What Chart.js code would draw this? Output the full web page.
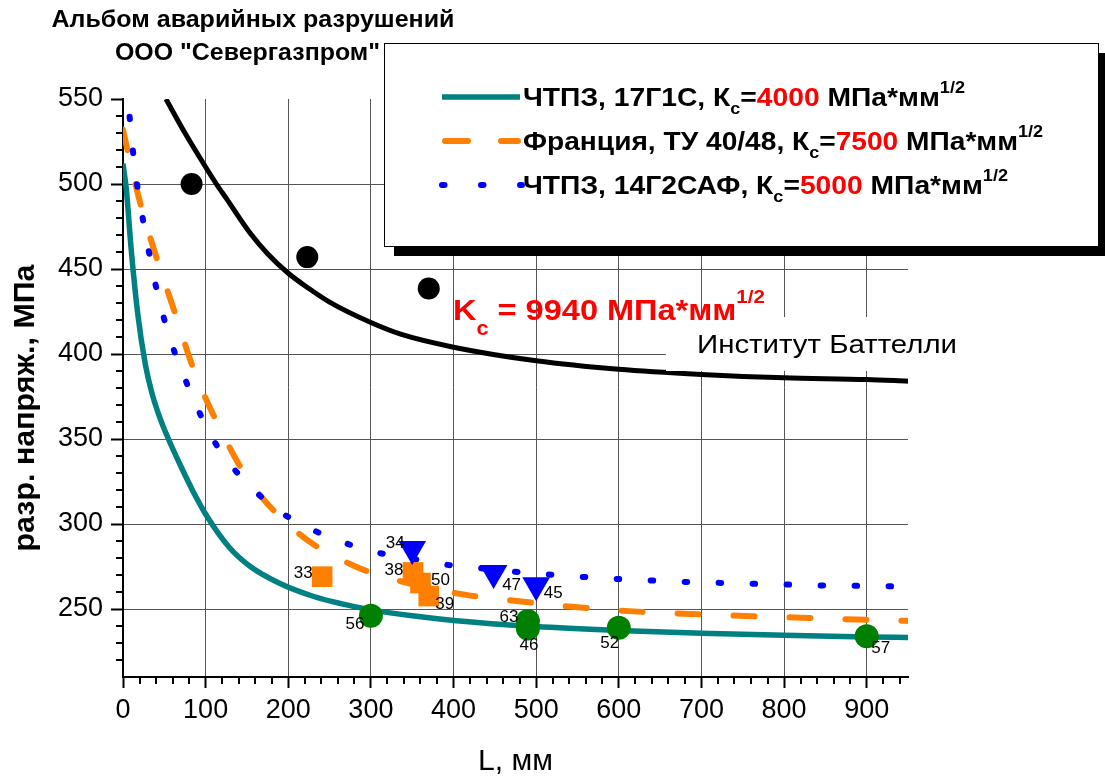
<!DOCTYPE html>
<html>
<head>
<meta charset="utf-8">
<title>Альбом аварийных разрушений</title>
<script src="https://cdn.jsdelivr.net/npm/chart.js@4.4.1/dist/chart.umd.min.js"></script>
<style>
  body { margin: 0; background: #fff; }
  #box { width: 1105px; height: 776px; }
</style>
</head>
<body>
<div id="box"><canvas id="grafico" width="1105" height="776"></canvas></div>
<script>
const xTicks = [0, 100, 200, 300, 400, 500, 600, 700, 800, 900];
const yTicks = [250, 300, 350, 400, 450, 500, 550];

// ЧТПЗ, 17Г1С, Kc=4000
const tealX = [0, 4, 10, 18, 27, 35, 45, 55, 69, 85, 101, 129, 154, 190, 230, 265, 300, 350, 400, 500, 600, 700, 800, 900, 950];
const tealY = [512, 497, 461, 423, 394, 377, 362, 350, 335, 319, 305, 286, 275, 265, 257.5, 253, 249.5, 246, 243.3, 239.7, 237.4, 235.7, 234.5, 233.6, 233.2];

// Франция, ТУ 40/48, Kc=7500
const orangeX = [0, 4.5, 21, 41, 63, 85.5, 115, 152, 212, 280, 331, 415, 482, 550, 618, 685, 752, 820, 887, 950];
const orangeY = [532, 522, 488.5, 456, 424, 391, 358.5, 326, 294.7, 275.3, 267, 258.3, 254.4, 251, 248.6, 247.1, 245.9, 244.9, 243.8, 243];

// ЧТПЗ, 14Г2САФ, Kc=5000
const blueX = [8, 12, 17, 23.5, 31, 39, 49, 61.5, 77, 95, 117, 150, 189, 230, 270, 307, 350, 392, 432, 473, 512, 553, 593, 634, 674, 714, 755, 795, 836, 876, 916, 950];
const blueY = [539.6, 519.6, 500, 480.8, 461, 441.6, 422, 402.4, 383, 363, 343.5, 324, 307.6, 296.5, 288.6, 283.3, 279.5, 276, 274, 272, 270.4, 269, 267.8, 266.9, 266, 265.5, 264.9, 264.5, 263.9, 263.7, 263.4, 263.2];

// Институт Баттелли, Kc=9940
const battelleX = [52, 75, 100, 113, 125, 154, 175, 200, 225, 250, 300, 337, 400, 500, 600, 700, 800, 900, 950];
const battelleY = [550, 530, 510, 500, 491.5, 471, 459, 447.5, 438.5, 430.5, 418.5, 411.5, 404, 396, 391, 388, 386, 385, 384];

// аварии
const blackDotX = [83, 223, 370];
const blackDotY = [500, 457, 438.5];

const greenX = [300, 490, 490, 600, 900];
const greenY = [246, 243, 238.5, 239, 234];
const greenNum = ['56', '63', '46', '52', '57'];

const squareX = [241, 351, 360, 370];
const squareY = [269, 271.5, 265.3, 257.6];
const squareNum = ['33', '38', '50', '39'];

const triangleX = [350, 448.5, 500];
const triangleY = [285.3, 271.2, 264];
const triangleNum = ['34', '47', '45'];

const legendNames = ['ЧТПЗ, 17Г1С, К', 'Франция, ТУ 40/48, К', 'ЧТПЗ, 14Г2САФ, К'];
const legendKc = ['4000', '7500', '5000'];

const FONT = '"Liberation Sans", Arial, sans-serif';

function pts(xs, ys) {
  let out = [];
  for (let i = 0; i < xs.length; i++) {
    out.push({ x: xs[i], y: ys[i] });
  }
  return out;
}

// text made of pieces: [text, size, color, shiftY, bold]
function richText(ctx, x, y, parts, width) {
  let total = 0;
  parts.forEach(p => {
    ctx.font = (p[4] ? 'bold ' : '') + p[1] + 'px ' + FONT;
    total += ctx.measureText(p[0]).width;
  });
  const k = width ? width / total : 1;
  ctx.save();
  ctx.translate(x, y);
  ctx.scale(k, 1);
  ctx.textAlign = 'left';
  ctx.textBaseline = 'alphabetic';
  let cx = 0;
  parts.forEach(p => {
    ctx.font = (p[4] ? 'bold ' : '') + p[1] + 'px ' + FONT;
    ctx.fillStyle = p[2];
    ctx.fillText(p[0], cx, p[3]);
    cx += ctx.measureText(p[0]).width;
  });
  ctx.restore();
}

function fitText(ctx, text, cx, y, font, width) {
  ctx.font = font;
  const k = width / ctx.measureText(text).width;
  ctx.save();
  ctx.translate(cx, y);
  ctx.scale(k, 1);
  ctx.textAlign = 'center';
  ctx.textBaseline = 'alphabetic';
  ctx.fillStyle = '#000';
  ctx.fillText(text, 0, 0);
  ctx.restore();
}

const minorTicks = {
  id: 'minorTicks',
  afterDraw(chart) {
    const ctx = chart.ctx;
    const xs = chart.scales.x, ys = chart.scales.y;
    ctx.save();
    ctx.strokeStyle = '#000';
    ctx.lineWidth = 2;
    ctx.beginPath();
    for (let v = 20; v < 950; v += 20) {
      if (v % 100 === 0) continue;
      const px = Math.round(xs.getPixelForValue(v));
      ctx.moveTo(px, xs.top);
      ctx.lineTo(px, xs.top + 7);
    }
    for (let v = 220; v < 550; v += 10) {
      if (v % 50 === 0) continue;
      const py = Math.round(ys.getPixelForValue(v));
      ctx.moveTo(ys.right, py);
      ctx.lineTo(ys.right - 7, py);
    }
    ctx.stroke();
    ctx.restore();
  }
};

const pointTexts = {
  id: 'pointTexts',
  afterDatasetsDraw(chart) {
    const ctx = chart.ctx;
    ctx.save();
    ctx.font = '17px ' + FONT;
    ctx.fillStyle = '#000';
    ctx.textAlign = 'center';
    ctx.textBaseline = 'middle';
    chart.data.datasets.forEach((ds, i) => {
      if (!ds.numbers) return;
      const meta = chart.getDatasetMeta(i);
      meta.data.forEach((el, j) => {
        const off = ds.numberOffsets[j];
        ctx.fillText(ds.numbers[j], el.x + off[0], el.y + off[1]);
      });
    });

    // Институт Баттелли
    ctx.fillStyle = '#fff';
    ctx.fillRect(666, 317, 300, 54);
    ctx.restore();
    fitText(ctx, 'Институт Баттелли', 827, 353, '25px ' + FONT, 260);
  }
};

const decor = {
  id: 'decor',
  afterDraw(chart) {
    const ctx = chart.ctx;
    const red = '#ff0000';

    fitText(ctx, 'Альбом аварийных разрушений', 253, 27, 'bold 23px ' + FONT, 403);
    fitText(ctx, 'ООО "Севергазпром"', 247.5, 60, 'bold 23px ' + FONT, 265);

    // axis titles
    ctx.save();
    ctx.translate(34, 408);
    ctx.rotate(-Math.PI / 2);
    fitText(ctx, 'разр. напряж., МПа', 0, 0, 'bold 30px ' + FONT, 287);
    ctx.restore();
    fitText(ctx, 'L, мм', 515.5, 770, '30px ' + FONT, 75);

    // Kc annotation
    richText(ctx, 453, 320, [
      ['K', 30, red, 0, true],
      ['c', 20, red, 15, true],
      [' = 9940 МПа*мм', 30, red, 0, true],
      ['1/2', 19, red, -17, true]
    ], 312);

    // legend box
    const bx = 384, by = 43, bw = 714, bh = 203;
    ctx.save();
    ctx.fillStyle = '#000';
    ctx.fillRect(bx + 10, by + 10, bw, bh);
    ctx.fillStyle = '#fff';
    ctx.fillRect(bx, by, bw, bh);
    ctx.strokeStyle = '#000';
    ctx.lineWidth = 1;
    ctx.strokeRect(bx + 0.5, by + 0.5, bw, bh);
    ctx.restore();

    const rowWidths = [442, 520, 485];
    const lineSets = [chart.data.datasets[4], chart.data.datasets[6], chart.data.datasets[5]];
    for (let i = 0; i < 3; i++) {
      const cy = 97 + 44 * i;
      const ds = lineSets[i];
      ctx.save();
      ctx.strokeStyle = ds.borderColor;
      ctx.lineWidth = ds.borderWidth;
      ctx.lineCap = ds.borderCapStyle || 'butt';
      ctx.setLineDash(ds.legendDash || []);
      ctx.beginPath();
      ctx.moveTo(ds.legendFrom, cy);
      ctx.lineTo(ds.legendTo, cy);
      ctx.stroke();
      ctx.restore();

      richText(ctx, 523, cy + 9, [
        [legendNames[i], 25, '#000', 0, true],
        ['c', 16, '#000', 8, true],
        ['=', 25, '#000', 0, true],
        [legendKc[i], 25, red, 0, true],
        [' МПа*мм', 25, '#000', 0, true],
        ['1/2', 16, '#000', -13, true]
      ], rowWidths[i]);
    }
  }
};

function criarGrafico() {
  const ctx = document.getElementById('grafico');

  new Chart(ctx, {
    type: 'scatter',
    data: {
      datasets: [
        {
          label: 'triangles',
          data: pts(triangleX, triangleY),
          pointStyle: 'triangle',
          rotation: 180,
          pointRadius: 16,
          backgroundColor: '#0000ff',
          borderColor: '#0000ff',
          borderWidth: 0,
          numbers: triangleNum,
          numberOffsets: [[-17, -6], [18, 12], [17, 8]]
        },
        {
          label: 'squares',
          data: pts(squareX, squareY),
          pointStyle: 'rect',
          pointRadius: 14.6,
          backgroundColor: '#ff8000',
          borderColor: '#ff8000',
          borderWidth: 0,
          numbers: squareNum,
          numberOffsets: [[-19, -3], [-19, -2], [20, -3], [16, 8]]
        },
        {
          label: 'green',
          data: pts(greenX, greenY),
          pointRadius: 12,
          backgroundColor: '#008000',
          borderColor: '#008000',
          borderWidth: 0,
          numbers: greenNum,
          numberOffsets: [[-16, 9], [-19, -4], [1, 17], [-9, 16], [14, 12]]
        },
        {
          label: 'black dots',
          data: pts(blackDotX, blackDotY),
          pointRadius: 11,
          backgroundColor: '#000',
          borderColor: '#000',
          borderWidth: 0
        },
        {
          label: 'ЧТПЗ, 17Г1С',
          data: pts(tealX, tealY),
          showLine: true,
          pointRadius: 0,
          borderColor: '#008080',
          borderWidth: 5.5,
          cubicInterpolationMode: 'monotone',
          legendFrom: 442, legendTo: 520
        },
        {
          label: 'ЧТПЗ, 14Г2САФ',
          data: pts(blueX, blueY),
          showLine: true,
          pointRadius: 0,
          borderColor: '#0000ff',
          borderWidth: 6,
          borderDash: [2.5, 31.5],
          borderCapStyle: 'round',
          cubicInterpolationMode: 'monotone',
          legendDash: [2.5, 36.5],
          legendFrom: 442, legendTo: 522
        },
        {
          label: 'Франция, ТУ 40/48',
          data: pts(orangeX, orangeY),
          showLine: true,
          pointRadius: 0,
          borderColor: '#ff8000',
          borderWidth: 6,
          borderDash: [21, 35],
          borderCapStyle: 'round',
          cubicInterpolationMode: 'monotone',
          legendDash: [23, 33],
          legendFrom: 445, legendTo: 518
        },
        {
          label: 'Институт Баттелли',
          data: pts(battelleX, battelleY),
          showLine: true,
          pointRadius: 0,
          borderColor: '#000',
          borderWidth: 5,
          cubicInterpolationMode: 'monotone'
        }
      ]
    },
    options: {
      responsive: false,
      animation: false,
      devicePixelRatio: 1,
      layout: { padding: { left: 0, top: 99, right: 197, bottom: 0 } },
      plugins: {
        legend: { display: false },
        tooltip: { enabled: false }
      },
      scales: {
        x: {
          type: 'linear',
          min: 0,
          max: 950,
          afterBuildTicks: s => { s.ticks = xTicks.map(v => ({ value: v })); },
          afterFit: s => { s.height = 99; },
          ticks: { font: { family: FONT, size: 27 }, color: '#000', padding: 6, maxRotation: 0, autoSkip: false },
          grid: {
            color: c => (c.tick && c.tick.value === 0 ? 'rgba(0,0,0,0)' : '#555'),
            lineWidth: 1,
            tickLength: 11,
            tickColor: '#000',
            tickWidth: 2
          },
          border: { display: true, color: '#000', width: 2 }
        },
        y: {
          type: 'linear',
          min: 210,
          max: 550,
          afterBuildTicks: s => { s.ticks = yTicks.map(v => ({ value: v })); },
          afterFit: s => { s.width = 123; },
          ticks: { font: { family: FONT, size: 27 }, color: '#000', padding: 8, autoSkip: false },
          grid: {
            color: c => (c.tick && c.tick.value === 550 ? 'rgba(0,0,0,0)' : '#555'),
            lineWidth: 1,
            tickLength: 12,
            tickColor: '#000',
            tickWidth: 2
          },
          border: { display: true, color: '#000', width: 2 }
        }
      }
    },
    plugins: [pointTexts, minorTicks, decor]
  });
}

criarGrafico();
</script>
</body>
</html>
